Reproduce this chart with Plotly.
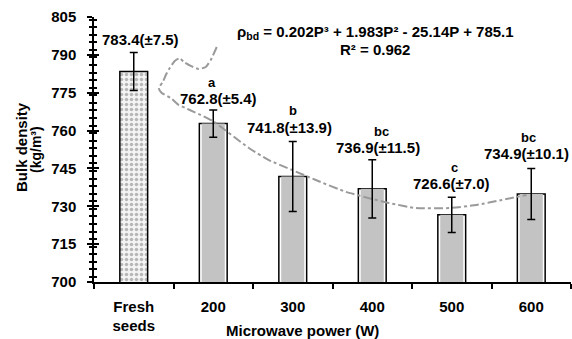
import plotly.graph_objects as go

categories = ["Fresh<br>seeds", "200", "300", "400", "500", "600"]
density = [783.4, 762.8, 741.8, 736.9, 726.6, 734.9]
errors = [7.5, 5.4, 13.9, 11.5, 7.0, 10.1]
letters = ["", "a", "b", "bc", "c", "bc"]

# trend curve (x in category-index units, y in kg/m3)
trend_x = [1.044, 0.969, 0.906, 0.818, 0.717, 0.629, 0.579, 0.516, 0.453,
           0.403, 0.365, 0.314, 0.352, 0.465, 0.566, 0.654, 0.755, 0.843,
           0.994, 1.448, 1.70, 1.99, 2.29, 2.67, 3.0, 3.21, 3.55, 3.97,
           4.31, 4.63, 4.94]
trend_y = [793.1, 788.0, 785.2, 784.4, 785.6, 787.2, 788.7, 787.6, 784.8,
           782.0, 779.2, 776.9, 774.9, 772.9, 770.1, 768.9, 767.4, 766.2,
           763.8, 753.1, 748.3, 744.4, 740.4, 735.7, 732.9, 731.3, 729.3,
           729.3, 730.5, 732.5, 734.5]

equation = "ρ<sub>bd</sub> = 0.202P³ + 1.983P² - 25.14P + 785.1"
r2_text = "R² = 0.962"
x_title = "Microwave power (W)"
y_title_lines = ["Bulk density", "(kg/m³)"]

FONT = "Liberation Sans"
xpos = list(range(len(categories)))

fig = go.Figure()

# outer bars (black border), fresh seeds dotted
fig.add_trace(go.Bar(
    x=xpos, y=density, width=0.35,
    marker=dict(
        color="white",
        line=dict(color="black", width=1.5),
        pattern=dict(shape=["."] + [""] * 5, fgcolor="#7a7a7a", bgcolor="#f4f4f4",
                     size=5, solidity=0.4),
    ),
    showlegend=False, hoverinfo="skip",
))
# inner gray fill leaving a white gap
fig.add_trace(go.Bar(
    x=xpos[1:], y=density[1:], width=0.29,
    marker=dict(color="#c3c3c3", line=dict(width=0)),
    showlegend=False, hoverinfo="skip",
))
# trend line
fig.add_trace(go.Scatter(
    x=trend_x, y=trend_y, mode="lines",
    line=dict(color="#9a9a9a", width=2, dash="dashdot", shape="spline", smoothing=0.5),
    showlegend=False, hoverinfo="skip",
))
# error bars
fig.add_trace(go.Scatter(
    x=xpos, y=density, mode="markers",
    marker=dict(size=1, color="rgba(0,0,0,0)"),
    error_y=dict(type="data", array=errors, visible=True, color="black",
                 thickness=1.5, width=4),
    showlegend=False, hoverinfo="skip",
))
# invisible trace on overlay axis for crossing ticks
fig.add_trace(go.Scatter(x=[0], y=[700], yaxis="y2", mode="markers",
                         marker=dict(size=1, color="rgba(0,0,0,0)"),
                         showlegend=False, hoverinfo="skip"))

label_pos = [(0.08, 795.9), (1.07, 772.9), (1.96, 761.4), (3.07, 753.1), (4.0, 739.2), (4.94, 751.1)]
letter_pos = [None, (0.98, 779.2), (2.0, 767.8), (3.11, 759.8), (4.03, 745.2), (4.97, 757.4)]


def bold(size):
    return dict(family=FONT, size=size, color="black", weight="bold")


annotations = []
for i in range(len(density)):
    lx, ly = label_pos[i]
    annotations.append(dict(x=lx, y=ly, xref="x", yref="y", showarrow=False,
                            text=f"{density[i]:.1f}(±{errors[i]:.1f})", font=bold(15)))
    if letters[i]:
        tx, ty = letter_pos[i]
        annotations.append(dict(x=tx, y=ty, xref="x", yref="y", showarrow=False,
                                text=letters[i], font=bold(13)))
annotations.append(dict(x=3.04, y=799.0, xref="x", yref="y", showarrow=False,
                        text=equation, font=bold(15)))
annotations.append(dict(x=3.04, y=792.3, xref="x", yref="y", showarrow=False,
                        text=r2_text, font=bold(15)))
# axis titles
annotations.append(dict(x=(302.5 - 94) / 477, y=(282 - 330) / 265,
                        xref="paper", yref="paper", xanchor="center", yanchor="middle",
                        showarrow=False, text=x_title, font=bold(15)))
annotations.append(dict(x=(21.5 - 94) / 477, y=(282 - 147.5) / 265,
                        xref="paper", yref="paper", xanchor="center", yanchor="middle",
                        showarrow=False, textangle=-90,
                        text=y_title_lines[0], font=bold(15)))
annotations.append(dict(x=(36 - 94) / 477, y=(282 - 150) / 265,
                        xref="paper", yref="paper", xanchor="center", yanchor="middle",
                        showarrow=False, textangle=-90,
                        text=y_title_lines[1], font=bold(14)))

fig.update_layout(
    width=572, height=339,
    margin=dict(l=94, r=1, t=17, b=57),
    paper_bgcolor="white", plot_bgcolor="white",
    barmode="overlay",
    font=dict(family=FONT, size=15, color="black"),
    annotations=annotations,
    xaxis=dict(
        range=[-0.5, 5.5], tickmode="array", tickvals=xpos,
        ticktext=categories,
        ticks="", showline=True, linecolor="black", linewidth=1.5,
        showgrid=False, zeroline=False,
        tickfont=bold(15), ticklabelstandoff=10,
        minor=dict(tick0=-0.5, dtick=1, ticks="outside", ticklen=5,
                   tickcolor="black", tickwidth=1.5, showgrid=False),
    ),
    yaxis=dict(
        range=[700, 805], tickmode="linear", tick0=700, dtick=15,
        ticks="outside", ticklen=5, tickwidth=1.5, tickcolor="black",
        showline=True, linecolor="black", linewidth=1.5,
        showgrid=False, zeroline=False,
        tickfont=bold(15), ticklabelstandoff=8,
        minor=dict(dtick=3, ticks="outside", ticklen=3, tickwidth=1.5,
                   tickcolor="black", showgrid=False),
    ),
    yaxis2=dict(
        overlaying="y", anchor="x", side="left", range=[700, 805],
        tickmode="linear", tick0=700, dtick=15,
        ticks="inside", ticklen=5, tickwidth=1.5, tickcolor="black",
        showticklabels=False, showgrid=False, zeroline=False, showline=False,
        minor=dict(dtick=3, ticks="inside", ticklen=3, tickwidth=1.5,
                   tickcolor="black", showgrid=False),
    ),
)

fig.write_html("out.html")
